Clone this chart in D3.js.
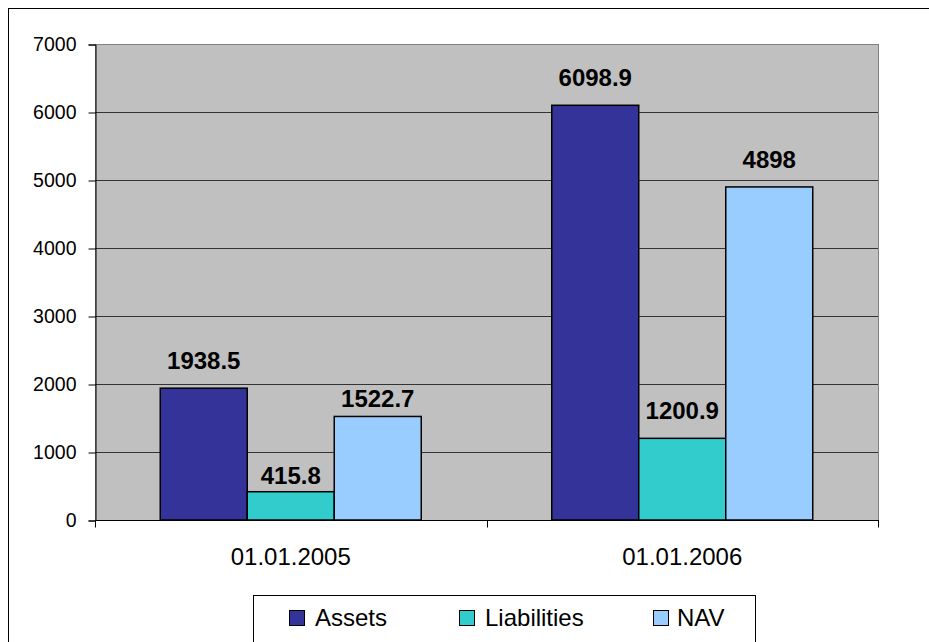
<!DOCTYPE html>
<html>
<head>
<meta charset="utf-8">
<script src="https://cdn.jsdelivr.net/npm/d3@7"></script>
<style>
  body { margin: 0; background: #fff; }
  text { font-family: "Liberation Sans", Arial, sans-serif; }
</style>
</head>
<body>
<div id="plot"></div>
<script>
// values
const categories = ["01.01.2005", "01.01.2006"];
const series = ["Assets", "Liabilities", "NAV"];
const assets = [1938.5, 6098.9];
const liabilities = [415.8, 1200.9];
const nav = [1522.7, 4898];
const yTicks = [0, 1000, 2000, 3000, 4000, 5000, 6000, 7000];

const colors = ["#333399", "#33CCCC", "#99CCFF"];

// label gap above the bar top (some labels sit lower in the original)
const labelGap = { "Liabilities|01.01.2005": 8, "NAV|01.01.2005": 9 };

const width = 929, height = 642;
const plot = { left: 95, top: 44, right: 878, bottom: 520 };

const svg = d3.select("#plot")
  .append("svg")
    .attr("width", width)
    .attr("height", height);

// outer chart border (runs off the right/bottom edge)
svg.append("rect")
  .attr("x", 8.5).attr("y", 8.5)
  .attr("width", 1000).attr("height", 1000)
  .attr("fill", "none")
  .attr("stroke", "#000");

const x0 = d3.scaleBand()
  .domain(categories)
  .range([plot.left, plot.right]);

const x1 = d3.scaleBand()
  .domain(series)
  .range([0, x0.bandwidth()])
  .paddingInner(0)
  .paddingOuter(0.75);

const y = d3.scaleLinear()
  .domain([0, 7000])
  .range([plot.bottom, plot.top]);

const color = d3.scaleOrdinal().domain(series).range(colors);

// plot area
svg.append("rect")
  .attr("x", plot.left + 0.5).attr("y", plot.top + 0.5)
  .attr("width", plot.right - plot.left).attr("height", plot.bottom - plot.top)
  .attr("fill", "#C0C0C0")
  .attr("stroke", "#808080");

// gridlines
svg.append("g")
  .selectAll("line")
  .data(yTicks.filter(d => d > 0 && d < 7000))
  .enter().append("line")
    .attr("x1", plot.left).attr("x2", plot.right)
    .attr("y1", d => Math.round(y(d)) + 0.5)
    .attr("y2", d => Math.round(y(d)) + 0.5)
    .attr("stroke", "#333");

const table = categories.map((c, i) => ({
  category: c,
  values: [assets[i], liabilities[i], nav[i]].map((v, j) => ({ key: series[j], value: v, category: c }))
}));

const groups = svg.selectAll(".group")
  .data(table)
  .enter().append("g")
    .attr("class", "group")
    .attr("transform", d => "translate(" + x0(d.category) + ",0)");

groups.selectAll("rect")
  .data(d => d.values)
  .enter().append("rect")
    .attr("x", d => x1(d.key))
    .attr("y", d => y(d.value))
    .attr("width", x1.bandwidth())
    .attr("height", d => y(0) - y(d.value))
    .attr("fill", d => color(d.key))
    .attr("stroke", "#000")
    .attr("stroke-width", 1.5);

groups.selectAll(".label")
  .data(d => d.values)
  .enter().append("text")
    .attr("class", "label")
    .attr("x", d => x1(d.key) + x1.bandwidth() / 2)
    .attr("y", d => y(d.value) - (labelGap[d.key + "|" + d.category] || 19))
    .attr("text-anchor", "middle")
    .style("font-size", "24px")
    .style("font-weight", "bold")
    .text(d => d.value);

// y axis
const yAxis = svg.append("g")
  .attr("transform", "translate(" + (plot.left + 0.5) + ",0.5)")
  .call(d3.axisLeft(y).tickValues(yTicks).tickSize(7).tickPadding(12).tickFormat(d3.format("d")));
yAxis.select(".domain").attr("stroke", "#000");
yAxis.selectAll(".tick line").attr("stroke", "#000");
yAxis.selectAll(".tick text")
  .attr("fill", "#000")
  .style("font-size", "19.5px")
  .style("font-family", "'Liberation Sans', Arial, sans-serif");

// x axis
const xAxisG = svg.append("g")
  .attr("transform", "translate(0," + (plot.bottom + 0.5) + ")");
xAxisG.append("line")
  .attr("x1", plot.left).attr("x2", plot.right + 1)
  .attr("stroke", "#000");
xAxisG.selectAll(".xtick")
  .data([plot.left, x0(categories[1]), plot.right])
  .enter().append("line")
    .attr("x1", d => Math.round(d) + 0.5).attr("x2", d => Math.round(d) + 0.5)
    .attr("y1", 0).attr("y2", 7)
    .attr("stroke", "#000");
xAxisG.selectAll(".xlabel")
  .data(categories)
  .enter().append("text")
    .attr("x", d => x0(d) + x0.bandwidth() / 2)
    .attr("y", 44)
    .attr("text-anchor", "middle")
    .style("font-size", "24px")
    .text(d => d);

// legend
const legend = svg.append("g");
legend.append("rect")
  .attr("x", 253.5).attr("y", 595.5)
  .attr("width", 502).attr("height", 80)
  .attr("fill", "#fff")
  .attr("stroke", "#000");
const legendX = [289, 459, 653];
const items = legend.selectAll(".item")
  .data(series)
  .enter().append("g")
    .attr("transform", (d, i) => "translate(" + legendX[i] + ",610)");
items.append("rect")
  .attr("x", 0.5).attr("y", 0.5)
  .attr("width", 15).attr("height", 15)
  .attr("fill", d => color(d))
  .attr("stroke", "#000");
items.append("text")
  .attr("x", d => d === "NAV" ? 24 : d === "Liabilities" ? 26 : 26)
  .attr("y", 16)
  .style("font-size", "24px")
  .text(d => d);
</script>
</body>
</html>
